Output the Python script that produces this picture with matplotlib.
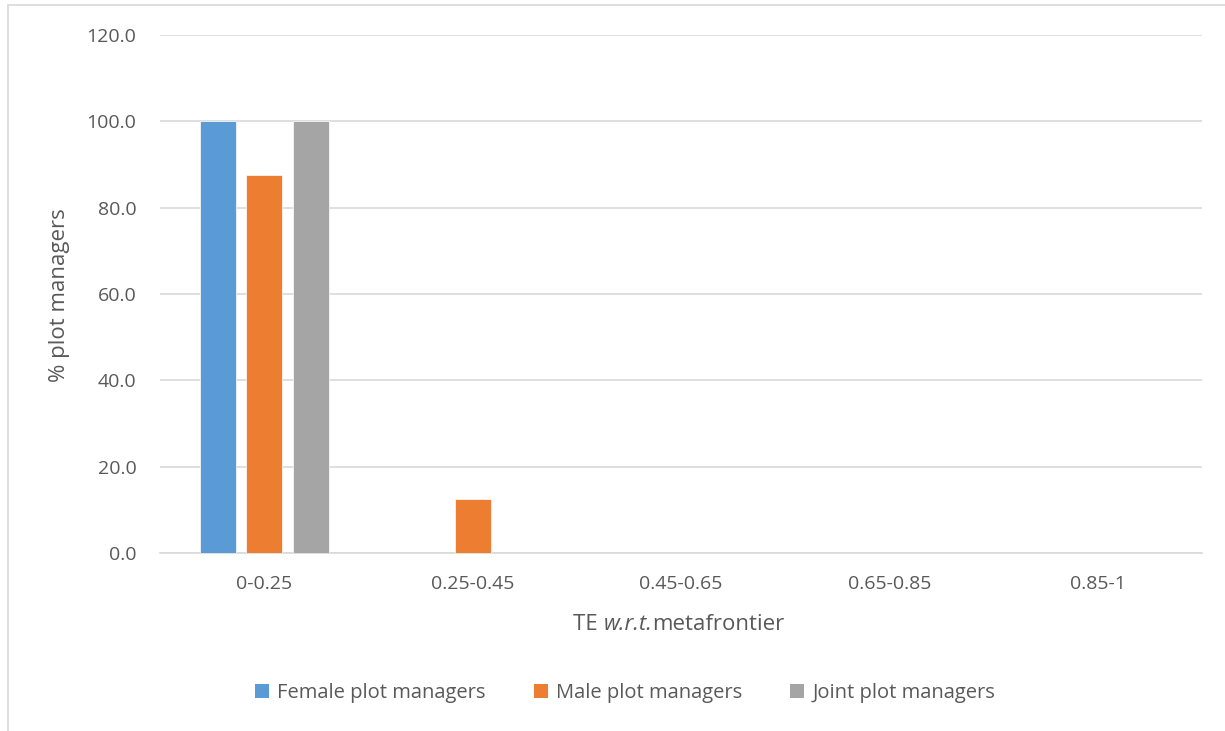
import matplotlib
matplotlib.use("Agg")
import matplotlib.pyplot as plt
from matplotlib.patches import Rectangle, Patch
import numpy as np

categories = ["0-0.25", "0.25-0.45", "0.45-0.65", "0.65-0.85", "0.85-1"]
female = [100.0, 0.0, 0.0, 0.0, 0.0]
male = [87.5, 12.5, 0.0, 0.0, 0.0]
joint = [100.0, 0.0, 0.0, 0.0, 0.0]
series_names = ["Female plot managers", "Male plot managers", "Joint plot managers"]
colors = ["#5B9BD5", "#ED7D31", "#A5A5A5"]
yticks = [0, 20, 40, 60, 80, 100, 120]

plt.rcParams["font.family"] = ["Open Sans", "DejaVu Sans"]
text_color = "#595959"
grid_color = "#D9D9D9"
W, H = 1225, 731

fig = plt.figure(figsize=(W / 100, H / 100), dpi=100)
# chart frame
fig.patches.append(Rectangle((8 / W, -0.1), 1.2, (H - 5) / H + 0.1,
                             transform=fig.transFigure, fill=False,
                             edgecolor="#D9D9D9", linewidth=1.2))

ax = fig.add_axes([160 / W, (H - 553) / H, (1202 - 160) / W, (553 - 35) / H])

x = np.arange(len(categories))
width = 0.173
step = 0.223
for i, (vals, name, c) in enumerate(zip([female, male, joint], series_names, colors)):
    ax.bar(x + (i - 1) * step, vals, width=width, color=c, label=name,
           edgecolor="white", linewidth=0.5, zorder=3)

ax.set_xlim(-0.5, len(categories) - 0.5)
ax.set_ylim(0, 120)
ax.set_yticks(yticks)
ax.set_yticklabels([f"{v:.1f}" for v in yticks])
ax.set_xticks(x)
ax.set_xticklabels(categories)
ax.tick_params(axis="both", length=0, labelsize=14, colors=text_color)
ax.tick_params(axis="x", pad=16)
ax.tick_params(axis="y", pad=17)
ax.grid(axis="y", color=grid_color, linewidth=1.2, zorder=0)
for s in ["top", "right", "left"]:
    ax.spines[s].set_visible(False)
ax.spines["bottom"].set_color(grid_color)
ax.spines["bottom"].set_linewidth(1.2)

fig.text(60 / W, 1 - 295 / H, "% plot managers", rotation=90, fontsize=16,
         color=text_color, ha="center", va="center")

# x-axis title with italic abbreviation, laid out piece by piece
parts = [("TE ", "normal"), ("w.r.t.", "italic"), ("metafrontier", "normal")]
renderer = fig.canvas.get_renderer()
texts = []
for s, style in parts:
    t = fig.text(0, 1 - 624 / H, s, fontsize=16, color=text_color, style=style,
                 ha="left", va="center")
    texts.append(t)
widths = [t.get_window_extent(renderer).width for t in texts]
xpos = 679 - sum(widths) / 2
for t, w in zip(texts, widths):
    t.set_x(xpos / W)
    xpos += w

handles = [Patch(facecolor=c, label=n) for c, n in zip(colors, series_names)]
fig.legend(handles=handles, loc="center", bbox_to_anchor=(625 / W, 1 - 693 / H),
           ncol=3, frameon=False, fontsize=14.5, labelcolor=text_color,
           handlelength=0.7, handleheight=0.7, handletextpad=0.4, columnspacing=2.4)

fig.savefig("out.png", dpi=100)
